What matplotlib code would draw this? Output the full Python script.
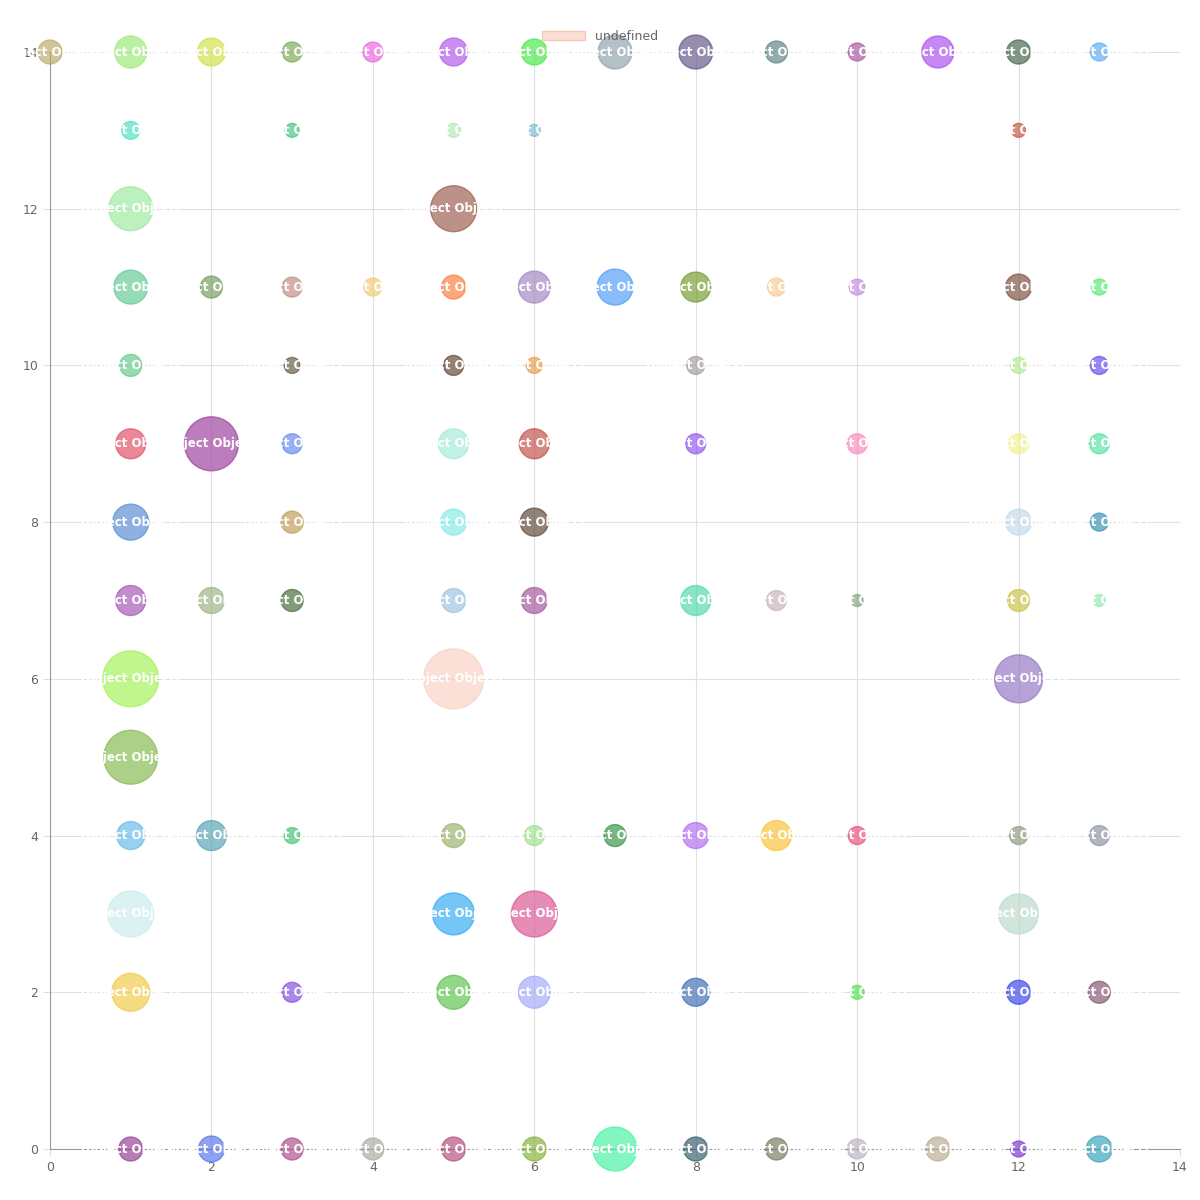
import matplotlib.pyplot as plt

xs = [0, 1, 2, 3, 4, 5, 6, 7, 8, 9, 10, 11, 12, 13,
      1, 3, 5, 6, 12,
      1, 5,
      1, 2, 3, 4, 5, 6, 7, 8, 9, 10, 12, 13,
      1, 3, 5, 6, 8, 12, 13,
      1, 2, 3, 5, 6, 8, 10, 12, 13,
      1, 3, 5, 6, 12, 13,
      1, 2, 3, 5, 6, 8, 9, 10, 12, 13,
      1, 5, 12,
      1,
      1, 2, 3, 5, 6, 7, 8, 9, 10, 12, 13,
      1, 5, 6, 12,
      1, 3, 5, 6, 8, 10, 12, 13,
      1, 2, 3, 4, 5, 6, 7, 8, 9, 10, 11, 12, 13]
ys = [14] * 14 + [13] * 5 + [12] * 2 + [11] * 12 + [10] * 7 + [9] * 9 + [8] * 6 + \
     [7] * 10 + [6] * 3 + [5] + [4] * 11 + [3] * 4 + [2] * 8 + [0] * 13
radius = [12, 16, 14, 10, 10, 14, 13, 17, 17, 11, 9, 16, 12, 9,
          9, 7, 7, 6, 7,
          22, 23,
          17, 11, 10, 9, 12, 16, 18, 15, 9, 8, 13, 8,
          11, 8, 10, 8, 9, 8, 9,
          15, 27, 10, 15, 15, 10, 10, 10, 10,
          18, 11, 13, 14, 13, 9,
          15, 13, 11, 12, 13, 15, 10, 6, 11, 6,
          28, 30, 24,
          27,
          14, 15, 8, 12, 10, 11, 13, 15, 9, 9, 10,
          23, 21, 23, 20,
          19, 10, 17, 16, 14, 7, 12, 11,
          12, 13, 11, 11, 12, 12, 22, 12, 11, 10, 12, 8, 13]
colors = ['#b8a866', '#98e870', '#d0e040', '#78a850', '#e860e0', '#b050e8', '#40e840', '#8aa0a8', '#605088', '#5a8080', '#a850a0', '#a848f0', '#406048', '#58a8f0',
          '#48e0c0', '#40c080', '#b0e8b0', '#78b8d0', '#c05040',
          '#98e898', '#985848',
          '#60c890', '#709858', '#c08880', '#f0c870', '#f87838', '#a080c0', '#4898f8', '#709828', '#f8c890', '#c088e0', '#784838', '#50e870',
          '#60c888', '#605838', '#604030', '#e89848', '#a09898', '#b0e890', '#6048e8',
          '#e04860', '#983898', '#6088e8', '#a0e8d8', '#c04840', '#9050f0', '#f888b8', '#f0f088', '#50e0a0',
          '#5088d0', '#c09850', '#80e8e8', '#584030', '#c0d8e8', '#3090b0',
          '#a050b0', '#98b080', '#406830', '#98c0e0', '#a05098', '#48d8a8', '#c8b0b8', '#80a080', '#c8c040', '#90e8b0',
          '#a0f050', '#f8d0c0', '#9070c0',
          '#80b848', '#60b8e8', '#50a0b0', '#40c070', '#98b068', '#98e088', '#309040', '#b068f0', '#f8c030', '#e84878', '#889878', '#8890a0',
          '#c8ecec', '#28a8f0', '#d85090', '#b8d8c8',
          '#f0c840', '#8048e0', '#58c048', '#a0a8f8', '#3868b0', '#50e050', '#3040e8', '#805070',
          '#903890', '#5070e8', '#a84888', '#a8a8a0', '#b04878', '#80b030', '#40f0a0', '#305868', '#707858', '#b8b0c0', '#b8a890', '#7830d0', '#30a0b8']

fig = plt.figure(figsize=(12, 12), dpi=100)
ax = fig.add_axes([50 / 1200, 51 / 1200, 1130 / 1200, 1097 / 1200])
sizes = [(2 * r * 0.72) ** 2 for r in radius]
ax.scatter(xs, ys, s=sizes, c=colors, alpha=0.65, edgecolors=colors, linewidths=1, clip_on=False, zorder=3)
for x, y in zip(xs, ys):
    ax.text(x, y, '[object Object]', color='white', fontsize=8.5, fontweight='bold', ha='center', va='center', zorder=4)

ax.set_xlim(0, 14)
ax.set_ylim(0, 14)
ax.set_xticks(range(0, 15, 2))
ax.set_yticks(range(0, 15, 2))
ax.grid(color='#e0e0e0', linewidth=0.8)
ax.set_axisbelow(True)
for s in ['top', 'right']:
    ax.spines[s].set_visible(False)
for s in ['left', 'bottom']:
    ax.spines[s].set_color('#999999')
ax.tick_params(labelcolor='#666666', labelsize=9, length=5, color='#e0e0e0')

fig.legend(handles=[plt.Rectangle((0, 0), 1, 1, fc='#fde0d4', ec='#f8c8b8')], labels=['undefined'],
           loc='center', bbox_to_anchor=(0.5, 1 - 36 / 1200), frameon=False, fontsize=9,
           labelcolor='#666666', handlelength=3.5)
fig.savefig('out.png')
